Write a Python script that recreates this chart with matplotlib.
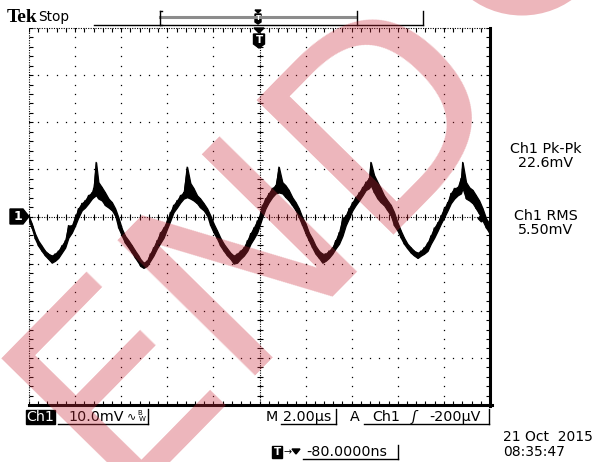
import numpy as np
import matplotlib
matplotlib.use("Agg")
import matplotlib.pyplot as plt
from matplotlib.lines import Line2D
from matplotlib.patches import Polygon, Ellipse

# trace: time (us), upper / lower edge of the trace (mV)
t_us = [0.00, 0.12, 0.26, 0.40, 0.55, 0.70, 0.84, 0.99, 1.13, 1.27, 1.42, 1.57, 1.71, 1.86,
        2.00, 2.14, 2.29, 2.43, 2.58, 2.73, 2.80, 2.91, 3.01, 3.16, 3.30, 3.45, 3.60, 3.74,
        3.88, 4.03, 4.17, 4.32, 4.47, 4.61, 4.75, 4.83, 4.97, 5.12, 5.26, 5.40, 5.55, 5.70,
        5.84, 5.99, 6.13, 6.27, 6.42, 6.57, 6.71, 6.86, 7.00, 7.14, 7.29, 7.43, 7.58, 7.73,
        7.87, 8.01, 8.16, 8.30, 8.45, 8.60, 8.74, 8.88, 9.03, 9.17, 9.32, 9.47, 9.61, 9.75,
        9.90, 9.97, 10.12, 10.26, 10.40, 10.55, 10.70, 10.84, 10.99, 11.13, 11.27, 11.42,
        11.57, 11.71, 11.86, 12.00, 12.14, 12.29, 12.43, 12.58, 12.73, 12.87, 13.01, 13.16,
        13.30, 13.45, 13.60, 13.74, 13.88, 14.03, 14.17, 14.32, 14.47, 14.61, 14.75, 14.83,
        14.97, 15.12, 15.26, 15.40, 15.55, 15.70, 15.84, 15.99, 16.13, 16.27, 16.42, 16.57,
        16.71, 16.86, 17.00, 17.14, 17.29, 17.43, 17.58, 17.73, 17.87, 18.01, 18.16, 18.30,
        18.45, 18.60, 18.74, 18.81, 18.96, 19.10, 19.25, 19.39, 19.53, 19.68, 19.83, 19.97]
v_hi = [0.0, -1.5, -3.6, -5.1, -6.2, -7.3, -7.9, -8.3, -7.9, -7.3, -6.2, -5.1, -1.9, -1.9,
        -0.2, 1.7, 2.8, 3.4, 4.5, 5.1, 6.0, 11.5, 7.3, 6.2, 5.1, 3.8, 3.0, 1.7,
        -0.2, -2.6, -4.1, -5.1, -6.2, -7.3, -8.3, -9.0, -9.8, -9.4, -7.9, -6.6, -5.1, -3.4,
        -2.4, -0.9, 0.9, 2.4, 3.4, 4.5, 5.1, 10.5, 7.1, 6.0, 4.5, 3.8, 2.8, 1.7,
        0.2, -1.5, -3.0, -4.5, -5.8, -6.8, -7.7, -8.3, -7.9, -7.3, -6.6, -5.1, -3.6, -2.4,
        -0.9, -0.2, 2.4, 3.8, 4.9, 6.0, 6.6, 10.5, 7.3, 6.6, 5.6, 4.1,
        3.0, 1.7, -0.2, -1.5, -3.4, -4.7, -6.2, -7.3, -7.9, -7.9, -7.3, -6.6,
        -5.1, -3.4, -0.4, 0.2, 1.7, 3.0, 4.1, 5.1, 6.2, 7.3, 8.1, 11.5,
        8.8, 7.3, 6.0, 4.5, 3.4, 2.4, 0.9, -1.3, -3.0, -4.5, -5.8, -6.6,
        -7.3, -7.7, -7.3, -6.6, -5.6, -4.1, -2.4, -1.3, 0.2, 1.7, 3.0, 4.9,
        6.0, 6.2, 8.1, 11.5, 7.3, 6.2, 5.6, 4.5, 3.4, 1.7, -0.4, -1.5]
v_lo = [-1.0, -2.4, -4.7, -6.2, -7.3, -8.3, -9.0, -9.8, -9.4, -8.8, -7.7, -6.6, -4.5, -3.4,
        -1.9, -0.2, 1.3, 1.9, 2.8, 3.8, 4.1, 4.5, 3.8, 3.4, 2.4, 1.9, 1.3, 0.2,
        -2.4, -4.1, -5.6, -6.6, -7.7, -8.8, -9.8, -10.5, -10.9, -10.5, -9.4, -8.3, -6.8, -5.6,
        -4.5, -2.6, -0.9, 0.9, 1.9, 3.0, 3.8, 4.1, 3.8, 3.4, 2.8, 1.9, 1.3, 0.2,
        -1.9, -3.4, -4.7, -6.2, -7.3, -8.3, -9.0, -10.0, -9.8, -9.0, -8.3, -7.3, -5.8, -4.7,
        -3.4, -2.4, -0.2, 1.7, 3.0, 4.1, 4.9, 5.1, 4.9, 4.1, 3.4, 2.4,
        1.3, -0.2, -1.9, -3.6, -5.1, -6.6, -7.9, -8.8, -9.8, -9.4, -8.8, -7.9,
        -6.8, -5.8, -4.1, -1.9, -0.4, 1.3, 2.4, 3.4, 4.5, 5.6, 6.0, 6.6,
        5.1, 3.8, 3.0, 2.4, 1.3, 0.2, -1.9, -3.0, -4.5, -5.8, -6.8, -7.7,
        -8.3, -8.8, -8.3, -7.9, -7.3, -5.8, -4.5, -3.0, -1.5, -0.2, 1.3, 2.8,
        3.8, 4.5, 4.9, 6.0, 3.8, 3.4, 2.8, 1.7, 0.6, -0.9, -2.4, -3.4]

# readouts
ch_label = "Ch1"
volts_div = "10.0mV"
time_div = "2.00\u00b5s"
trig_level = "-200\u00b5V"
trig_pos = "-80.0000ns"
meas_names = ["Ch1 Pk-Pk", "Ch1 RMS"]
meas_values = ["22.6mV", "5.50mV"]
date_str = "21 Oct  2015"
time_str = "08:35:47"

W, H = 595, 462
plt.rcParams["font.family"] = ["DejaVu Sans"]
fig = plt.figure(figsize=(W / 100, H / 100), dpi=100)
fig.patch.set_facecolor("white")


def fx(x):
    return x / W


def fy(y):
    return 1 - y / H


def line(x0, y0, x1, y1, **kw):
    fig.add_artist(Line2D([fx(x0), fx(x1)], [fy(y0), fy(y1)], transform=fig.transFigure, **kw))


def poly(pts, **kw):
    fig.add_artist(Polygon([(fx(a), fy(b)) for a, b in pts], closed=True,
                           transform=fig.transFigure, **kw))


def txt(x, y, s, **kw):
    kw.setdefault("va", "center")
    kw.setdefault("fontsize", 10.3)
    fig.text(fx(x), fy(y), s, **kw)


# graticule
ax = fig.add_axes([fx(29), fy(405), fx(490) - fx(29), fy(28) - fy(405)])
ax.set_xlim(0, 20)
ax.set_ylim(-40, 40)
ax.axis("off")

xd = np.arange(0, 20.01, 0.4)
yd = np.arange(-40, 40.01, 2)
dot = dict(ls="none", marker="s", ms=0.9, color="k", mew=0)
for xv in [2, 4, 6, 8, 12, 14, 16, 18]:
    ax.plot([xv] * len(yd), yd, **dot)
for yv in [-30, -20, -10, 10, 20, 30]:
    ax.plot(xd, [yv] * len(xd), **dot)

ax.plot([0, 20], [0, 0], ls=(0, (1, 1.2)), lw=0.8, color="k")
ax.plot(xd, [0] * len(xd), ls="none", marker="|", ms=4, mew=0.8, color="k")
ax.plot([10, 10], [-40, 40], ls=(0, (1, 1.2)), lw=0.8, color="k")
ax.plot([10] * len(yd), yd, ls="none", marker="_", ms=4, mew=0.8, color="k")

ax.plot([0, 20], [40, 40], ls=(0, (1, 1.2)), lw=0.8, color="k", clip_on=False)
ax.plot([0, 0], [-40, 40], ls=(0, (1, 1.2)), lw=0.8, color="k", clip_on=False)
ax.plot([20, 20], [-40.3, 40], lw=2.2, color="k", clip_on=False)
ax.plot([0, 20.1], [-40, -40], lw=2.2, color="k", clip_on=False)
ax.plot(xd, [39.5] * len(xd), ls="none", marker="|", ms=3, mew=0.8, color="k")
ax.plot(xd, [-39.5] * len(xd), ls="none", marker="|", ms=3, mew=0.8, color="k")
ax.plot([0.1] * len(yd), yd, ls="none", marker="_", ms=3, mew=0.8, color="k")
ax.plot([19.9] * len(yd), yd, ls="none", marker="_", ms=3, mew=0.8, color="k")

# trace
ax.fill_between(t_us, v_lo, v_hi, color="k", lw=0.9)
zig_t = np.repeat(t_us, 2)
zig_v = np.column_stack([v_hi, v_lo]).ravel()
ax.plot(zig_t, zig_v, color="k", lw=0.8)
ax.plot([19.62], [-0.3], marker="D", ms=3.5, color="k")

# ground marker "1"
poly([(10, 209), (23, 209), (29, 216.5), (23, 224), (10, 224)], fc="k", ec="k")
txt(17.5, 216.5, "1", color="white", fontsize=9, fontweight="bold", ha="center")

# trigger marker at top of graticule
poly([(254, 28), (264, 28), (259, 33)], fc="k", ec="k")
poly([(253.5, 34), (264.5, 34), (264.5, 44), (259, 48), (253.5, 44)], fc="k", ec="k")
txt(259, 40, "T", color="white", fontsize=7.5, fontweight="bold", ha="center")

# top bar
txt(7, 17, "Tek", family="Liberation Serif", fontweight="bold", fontsize=14, ha="left")
txt(38, 17, "Stop", fontsize=9.8, ha="left")
line(94, 24.5, 423, 24.5, color="k", lw=1)
line(160, 17, 356, 17, color="#8c8c8c", lw=2.2)
line(160, 11, 160, 25, color="k", lw=1)
line(160, 11, 162, 11, color="k", lw=1)
line(160, 24.5, 162, 24.5, color="k", lw=1)
line(356.5, 11, 356.5, 25, color="k", lw=1)
line(423, 11, 423, 25, color="k", lw=1)
poly([(255, 10), (261, 10), (258, 13)], fc="k", ec="k")
poly([(255, 14), (261, 14), (261, 22), (258, 24), (255, 22)], fc="k", ec="k")
txt(258, 18.5, "T", color="white", fontsize=5, fontweight="bold", ha="center")

# measurements on the right
txt(546, 149, meas_names[0], ha="center", fontsize=10.3)
txt(546, 163, meas_values[0], ha="center", fontsize=10.3)
txt(546, 216, meas_names[1], ha="center", fontsize=10.3)
txt(546, 230, meas_values[1], ha="center", fontsize=10.3)

# bottom readouts
poly([(26, 410), (55, 410), (55, 424), (26, 424)], fc="k", ec="k")
txt(40.5, 417, ch_label, color="white", ha="center")
txt(68, 417, volts_div, ha="left")
txt(127, 416, "\u223f", ha="left", fontsize=8)
txt(137, 413, "B", ha="left", fontsize=5)
txt(139, 419, "W", ha="left", fontsize=5)
line(58, 424, 148, 424, color="k", lw=1)
line(148, 409, 148, 424, color="k", lw=1)

txt(266, 417, "M", ha="left")
txt(283, 417, time_div, ha="left")
line(281, 424, 336, 424, color="k", lw=1)
line(336, 409, 336, 424, color="k", lw=1)

txt(350, 417, "A", ha="left")
txt(372, 417, ch_label, ha="left")
txt(412, 417, "\u0283", ha="left", fontstyle="italic")
txt(429, 417, trig_level, ha="left")
line(364, 424, 489, 424, color="k", lw=1)
line(489, 409, 489, 424, color="k", lw=1)

poly([(272, 446), (282, 446), (282, 458), (272, 458)], fc="k", ec="k")
txt(277, 452, "T", color="white", fontsize=7.5, fontweight="bold", ha="center")
txt(283, 452, "\u2192", ha="left", fontsize=7)
poly([(292, 449), (300, 449), (296, 454)], fc="k", ec="k")
txt(306, 452, trig_pos, ha="left")
line(303, 459, 398, 459, color="k", lw=1)
line(398, 445, 398, 459, color="k", lw=1)

txt(503, 437, date_str, ha="left", fontsize=10)
txt(503, 452, time_str, ha="left", fontsize=10)

# watermark
wm_col = (0.80, 0.18, 0.24)
fig.text(fx(113), fy(494), "END", rotation=45.5, rotation_mode="anchor", ha="left",
         va="baseline", fontsize=190, color=wm_col, alpha=0.35, zorder=10)
fig.add_artist(Ellipse((fx(522), fy(-62)), 165 / W, 155 / H, transform=fig.transFigure,
                       fc=wm_col, ec="none", alpha=0.35, zorder=10))

fig.savefig("out.png", dpi=100)
